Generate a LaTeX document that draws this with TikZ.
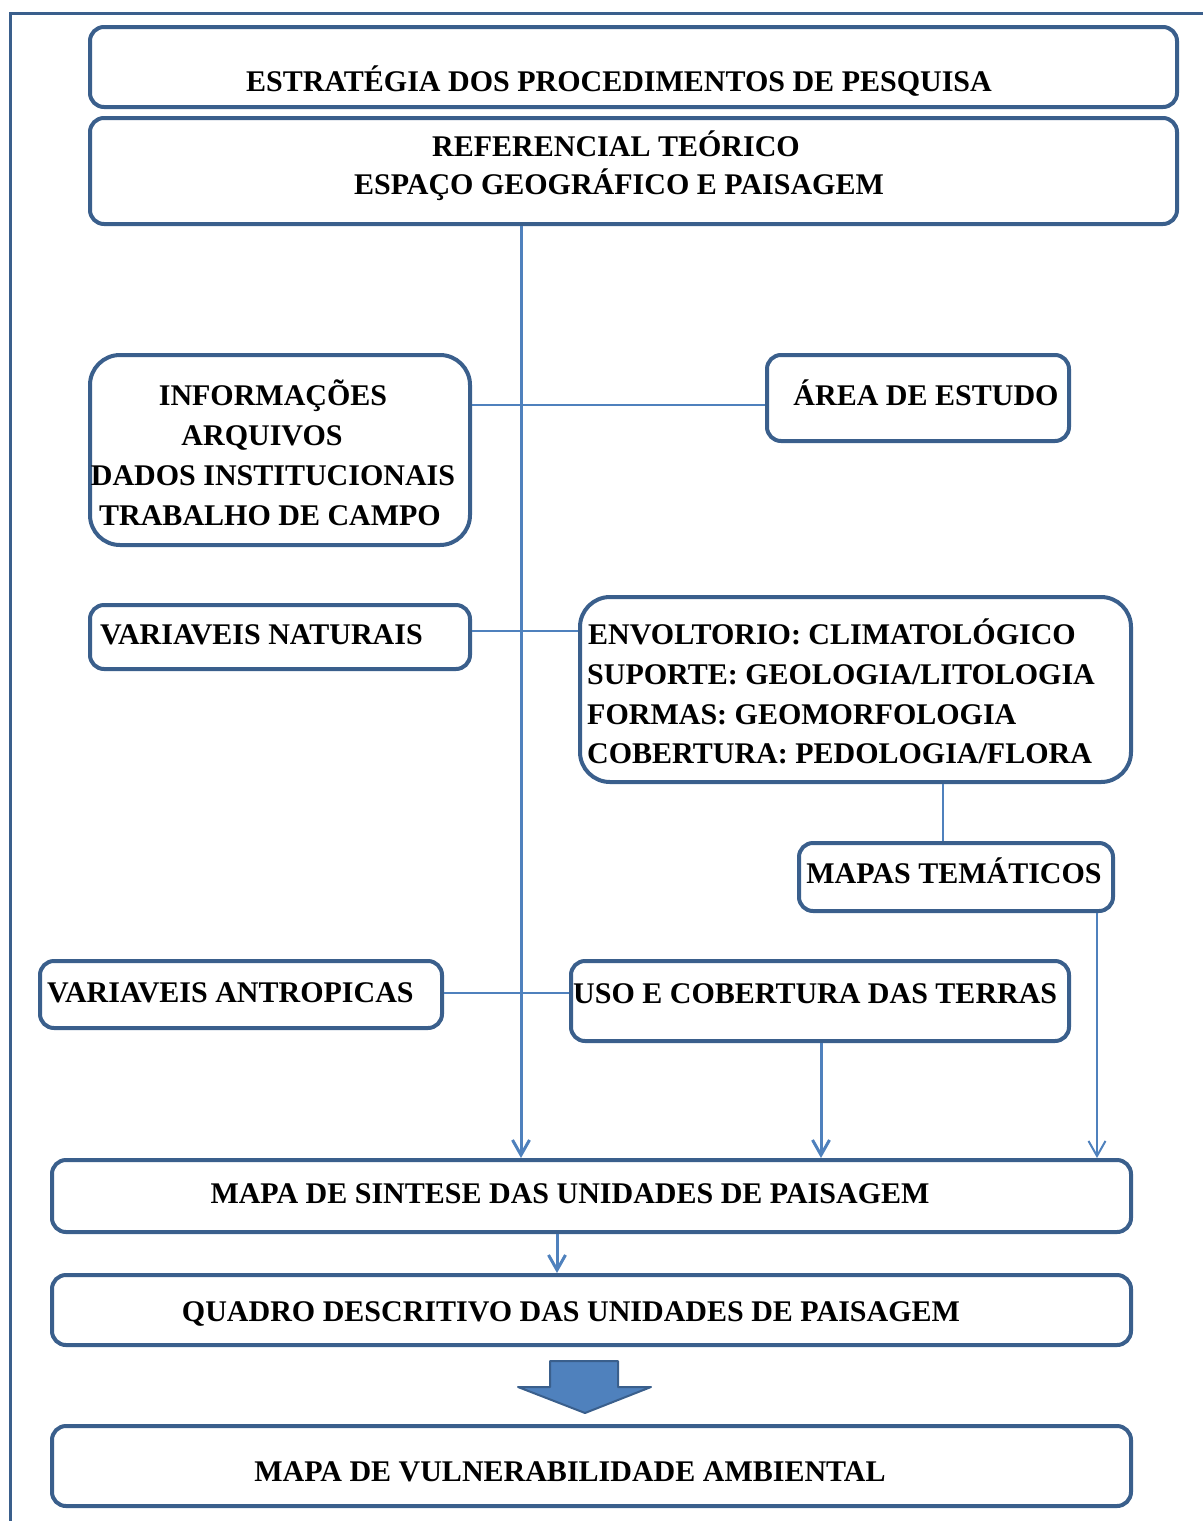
\documentclass[tikz,border=0pt]{standalone}
\usepackage{fontspec}
\setmainfont{Liberation Serif}
\usetikzlibrary{arrows.meta}
\definecolor{boxc}{RGB}{58,95,140}
\definecolor{connc}{RGB}{79,129,189}
\tikzset{
  box/.style={draw=boxc, line width=4pt, rounded corners=14pt, inner sep=0pt, fill=white},
  bigbox/.style={box, rounded corners=30pt},
  lbl/.style={anchor=base, inner sep=0pt, font=\fontsize{30}{40}\selectfont\bfseries, text=black},
  lbll/.style={lbl, anchor=base west},
  thinconn/.style={draw=connc, line width=1.6pt},
  thickconn/.style={draw=connc, line width=3pt, -{Straight Barb[length=15pt,width=17pt]}},
  medconn/.style={draw=connc, line width=2pt, -{Straight Barb[length=15pt,width=17pt]}},
  blockarrow/.style={draw=boxc, fill=connc, line width=2pt, line join=round},
  frame/.style={draw=boxc, line width=3pt}
}
\begin{document}
\begin{tikzpicture}[x=1pt, y=-1pt]
\useasboundingbox (0,0) rectangle (1203,1521);
\draw[frame] (10,1521) -- (10,13) -- (1203,13);

% boxes
\node[box, minimum width=1087pt, minimum height=80pt] (b1) at (633.5,67) {};
\node[box, minimum width=1087pt, minimum height=106pt] (b2) at (633.5,171) {};
\node[bigbox, minimum width=380pt, minimum height=190pt] (b3) at (280,450) {};
\node[box, minimum width=302pt, minimum height=86pt] (b4) at (918,398) {};
\node[box, minimum width=380pt, minimum height=64pt] (b5) at (280,637) {};
\node[bigbox, minimum width=551pt, minimum height=185pt] (b6) at (855.5,689.5) {};
\node[box, minimum width=314pt, minimum height=68pt] (b7) at (956,877) {};
\node[box, minimum width=402pt, minimum height=67pt] (b8) at (241,994.5) {};
\node[box, minimum width=498pt, minimum height=80pt] (b9) at (820,1001) {};
\node[box, minimum width=1079pt, minimum height=72pt] (b10) at (591.5,1196) {};
\node[box, minimum width=1079pt, minimum height=70pt] (b11) at (591.5,1310) {};
\node[box, minimum width=1079pt, minimum height=80pt] (b12) at (591.5,1466) {};

% helper coordinates for connector positions
\coordinate (vmain) at (521,0);
\coordinate (vtema) at (943,0);
\coordinate (vtemb) at (1097,0);
\coordinate (vuso) at (821,0);
\coordinate (vsint) at (557,0);
\coordinate (hinfo) at (0,405);
\coordinate (hnat) at (0,631);
\coordinate (hant) at (0,993);

% connectors
\draw[thinconn] (b3.east |- hinfo) -- (b4.west |- hinfo);
\draw[thinconn] (b5.east |- hnat) -- (b6.west |- hnat);
\draw[thinconn] (b8.east |- hant) -- (b9.west |- hant);
\draw[thinconn] (b6.south -| vtema) -- (b7.north -| vtema);
\draw[thickconn] (b2.south -| vmain) -- (b10.north -| vmain);
\draw[medconn] (b7.south -| vtemb) -- (b10.north -| vtemb);
\draw[thickconn] (b9.south -| vuso) -- (b10.north -| vuso);
\draw[thickconn] (b10.south -| vsint) -- (b11.north -| vsint);

% block arrow
\draw[blockarrow] (550,1361) -- (618,1361) -- (618,1387) -- (651,1387) -- (585,1413) -- (518,1387) -- (550,1387) -- cycle;

% labels
\node[lbl] (t1) at (619,91) {ESTRATÉGIA DOS PROCEDIMENTOS DE PESQUISA};
\node[lbl] (t2a) at (616,156) {REFERENCIAL TEÓRICO};
\node[lbl] (t2b) at (619,194) {ESPAÇO GEOGRÁFICO E PAISAGEM};
\node[lbl] (t3a) at (273,405) {INFORMAÇÕES};
\node[lbl] (t3b) at (262,445) {ARQUIVOS};
\node[lbl] (t3c) at (273,485) {DADOS INSTITUCIONAIS};
\node[lbl] (t3d) at (270,525) {TRABALHO DE CAMPO};
\node[lbl] (t4) at (926,405) {ÁREA DE ESTUDO};
\node[lbll] (t5) at (100,644) {VARIAVEIS NATURAIS};
\node[lbll] (t6a) at (588,644) {ENVOLTORIO: CLIMATOLÓGICO};
\node[lbll] (t6b) at (587,684) {SUPORTE: GEOLOGIA/LITOLOGIA};
\node[lbll] (t6c) at (587,724) {FORMAS: GEOMORFOLOGIA};
\node[lbll] (t6d) at (587,763) {COBERTURA: PEDOLOGIA/FLORA};
\node[lbl] (t7) at (954,883) {MAPAS TEMÁTICOS};
\node[lbll] (t8) at (47,1002) {VARIAVEIS ANTROPICAS};
\node[lbll] (t9) at (573,1003) {USO E COBERTURA DAS TERRAS};
\node[lbl] (t10) at (570,1203) {MAPA DE SINTESE DAS UNIDADES DE PAISAGEM};
\node[lbl] (t11) at (571,1321) {QUADRO DESCRITIVO DAS UNIDADES DE PAISAGEM};
\node[lbl] (t12) at (570,1481) {MAPA DE VULNERABILIDADE AMBIENTAL};
\end{tikzpicture}
\end{document}
